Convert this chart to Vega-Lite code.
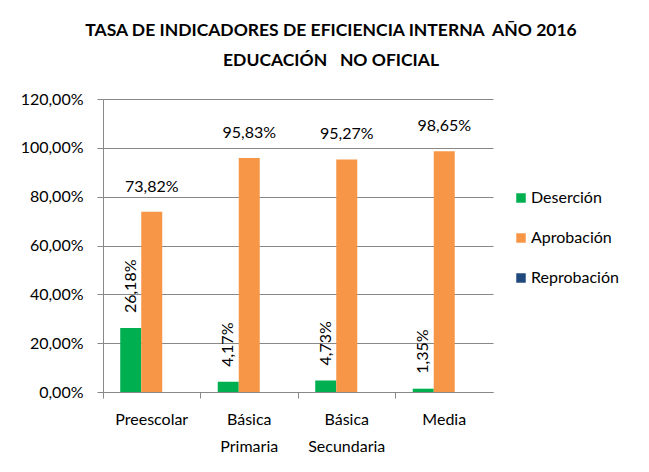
{
  "$schema": "https://vega.github.io/schema/vega-lite/v6.json",
  "width": 390,
  "height": 293,
  "autosize": {"type": "none"},
  "padding": {"left": 103, "top": 99, "right": 156, "bottom": 80},
  "background": "white",
  "config": {
    "locale": {"number": {"decimal": ",", "thousands": ".", "grouping": [3], "currency": ["", "$"]}},
    "view": {"stroke": null},
    "font": "Lato"
  },
  "title": {
    "text": ["TASA DE INDICADORES DE EFICIENCIA INTERNA \u00a0AÑO 2016", "EDUCACIÓN \u00a0 NO OFICIAL"],
    "font": "Lato",
    "fontSize": 17.5,
    "fontWeight": "bold",
    "color": "black",
    "anchor": "middle",
    "dx": 33,
    "offset": 22,
    "lineHeight": 30
  },
  "data": {
    "values": [
      {"nivel": "Preescolar", "indicador": "Deserción", "tasa": 0.2618},
      {"nivel": "Preescolar", "indicador": "Aprobación", "tasa": 0.7382},
      {"nivel": "Preescolar", "indicador": "Reprobación", "tasa": 0},
      {"nivel": "Básica Primaria", "indicador": "Deserción", "tasa": 0.0417},
      {"nivel": "Básica Primaria", "indicador": "Aprobación", "tasa": 0.9583},
      {"nivel": "Básica Primaria", "indicador": "Reprobación", "tasa": 0},
      {"nivel": "Básica Secundaria", "indicador": "Deserción", "tasa": 0.0473},
      {"nivel": "Básica Secundaria", "indicador": "Aprobación", "tasa": 0.9527},
      {"nivel": "Básica Secundaria", "indicador": "Reprobación", "tasa": 0},
      {"nivel": "Media", "indicador": "Deserción", "tasa": 0.0135},
      {"nivel": "Media", "indicador": "Aprobación", "tasa": 0.9865},
      {"nivel": "Media", "indicador": "Reprobación", "tasa": 0}
    ]
  },
  "encoding": {
    "x": {
      "field": "nivel",
      "type": "nominal",
      "sort": ["Preescolar", "Básica Primaria", "Básica Secundaria", "Media"],
      "scale": {"paddingInner": 0, "paddingOuter": 0},
      "axis": {
        "title": null,
        "labelAngle": 0,
        "labelExpr": "split(datum.label, ' ')",
        "bandPosition": 0,
        "tickSize": 6,
        "tickColor": "#888888",
        "domainColor": "#888888",
        "labelPadding": 13,
        "labelFontSize": 16,
        "labelColor": "black",
        "labelLineHeight": 27,
        "labelFont": "Lato"
      }
    },
    "xOffset": {
      "field": "indicador",
      "sort": ["Deserción", "Aprobación", "Reprobación"],
      "scale": {"paddingInner": 0, "paddingOuter": 0.82}
    },
    "y": {
      "field": "tasa",
      "type": "quantitative",
      "scale": {"domain": [0, 1.2], "nice": false},
      "axis": {
        "title": null,
        "values": [0, 0.2, 0.4, 0.6, 0.8, 1.0, 1.2],
        "format": ".2%",
        "grid": true,
        "gridColor": "#888888",
        "tickColor": "#888888",
        "domainColor": "#888888",
        "tickSize": 6,
        "labelPadding": 14,
        "labelFontSize": 16,
        "labelColor": "black",
        "labelFont": "Lato"
      }
    }
  },
  "layer": [
    {
      "mark": {"type": "bar"},
      "encoding": {
        "color": {
          "field": "indicador",
          "type": "nominal",
          "scale": {"domain": ["Deserción", "Aprobación", "Reprobación"], "range": ["#00B050", "#F79646", "#1F497D"]},
          "legend": {
            "orient": "none",
            "legendX": 410,
            "legendY": 91,
            "title": null,
            "symbolType": "square",
            "symbolSize": 90,
            "symbolStrokeWidth": 0,
            "labelFontSize": 16,
            "labelColor": "black",
            "labelFont": "Lato",
            "rowPadding": 24,
            "labelOffset": 2
          }
        }
      }
    },
    {
      "transform": [{"filter": "datum.indicador === 'Deserción'"}],
      "mark": {"type": "text", "angle": 270, "align": "left", "baseline": "middle", "dx": 15, "fontSize": 16, "color": "black", "font": "Lato"},
      "encoding": {"text": {"field": "tasa", "type": "quantitative", "format": ".2%"}}
    },
    {
      "transform": [{"filter": "datum.indicador === 'Aprobación'"}],
      "mark": {"type": "text", "baseline": "bottom", "dy": -17, "fontSize": 16, "color": "black", "font": "Lato"},
      "encoding": {"text": {"field": "tasa", "type": "quantitative", "format": ".2%"}}
    }
  ]
}
